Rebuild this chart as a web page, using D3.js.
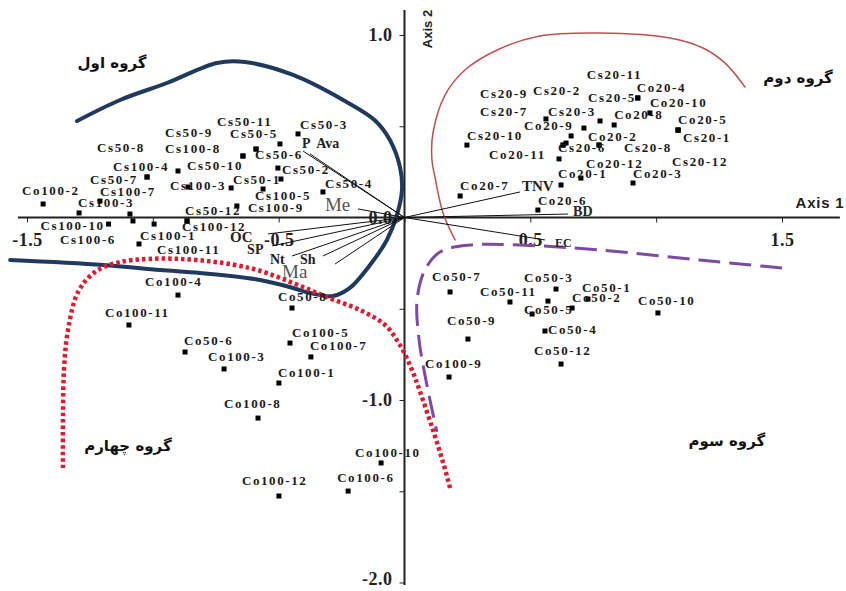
<!DOCTYPE html>
<html>
<head>
<meta charset="utf-8">
<script src="https://cdn.jsdelivr.net/npm/d3@7"></script>
<style>
  body { margin: 0; background: #fff; }
  svg { display: block; }
</style>
</head>
<body>
<div id="chart"></div>
<script>
'use strict';

// Sample scores on the two ordination axes.
// Empty name = marker without a readable label.
const sampleNames = [
  // group 1
  'Co100-2', 'Cs100-3', 'Cs100-7', 'Cs50-7', 'Cs50-8', 'Cs100-4', 'Cs50-10',
  'Cs100-3', 'Cs100-8', 'Cs50-9', 'Cs50-6', 'Cs50-11', 'Cs50-5', 'Cs50-3',
  'Cs50-2', 'Cs50-1', 'Cs50-4', 'Cs100-5', 'Cs100-9', 'Cs50-12', 'Cs100-12',
  'Cs100-1', 'Cs100-10', 'Cs100-6', 'Cs100-11', '',
  // group 2
  'Cs20-10', 'Cs20-3', 'Cs20-2', 'Cs20-5', 'Co20-8', 'Cs20-9', 'Cs20-7',
  'Co20-9', 'Co20-11', 'Co20-2', 'Cs20-8', 'Cs20-6', 'Co20-12', 'Co20-1',
  'Co20-3', 'Co20-7', 'Co20-6', 'Co20-4', 'Cs20-11', 'Co20-10', 'Co20-5',
  'Cs20-1', 'Cs20-12',
  // group 3
  'Co50-7', 'Co50-3', 'Co50-11', '', 'Co50-1', 'Co50-2', 'Co50-10', 'Co50-5',
  'Co50-9', 'Co50-4', 'Co50-12', 'Co100-9',
  // group 4
  'Co100-4', 'Co100-11', 'Co50-8', 'Co100-5', 'Co100-7', 'Co50-6', 'Co100-3',
  'Co100-1', 'Co100-8', 'Co100-10', 'Co100-12', 'Co100-6'
];

const axis1Scores = [
  -1.436, -1.293, -1.210, -1.023, -1.023, -0.900, -0.860,
  -0.689, -0.642, -0.642, -0.590, -0.590, -0.495, -0.423,
  -0.503, -0.491, -0.324, -0.562, -0.666, -0.864, -0.864,
  -0.995, -1.176, -1.079, -1.055, -1.091,
  0.248, 0.562, 0.713, 0.777, 0.833, 0.662, 0.642,
  0.630, 0.630, 0.773, 0.773, 0.614, 0.701, 0.622,
  0.908, 0.221, 0.530, 0.927, 0.927, 0.975, 1.087,
  1.087, 1.087,
  0.181, 0.602, 0.419, 0.570, 0.729, 0.666, 1.007, 0.507,
  0.252, 0.558, 0.622, 0.177,
  -0.900, -1.095, -0.447, -0.455, -0.372, -0.872, -0.717,
  -0.499, -0.582, -0.093, -0.499, -0.224
];

const axis2Scores = [
  0.074, 0.025, 0.090, 0.222, 0.222, 0.255, 0.167,
  0.162, 0.337, 0.337, 0.375, 0.375, 0.403, 0.458,
  0.271, 0.211, 0.140, 0.156, 0.063, -0.019, -0.019,
  -0.036, -0.036, -0.019, -0.145, 0.019,
  0.397, 0.540, 0.490, 0.529, 0.507, 0.447, 0.408,
  0.397, 0.397, 0.397, 0.397, 0.321, 0.216, 0.178,
  0.189, 0.118, 0.041, 0.655, 0.655, 0.573, 0.479,
  0.479, 0.479,
  -0.408, -0.392, -0.463, -0.458, -0.447, -0.496, -0.523, -0.529,
  -0.666, -0.622, -0.803, -0.874,
  -0.425, -0.589, -0.496, -0.688, -0.764, -0.737, -0.830,
  -0.907, -1.099, -1.345, -1.526, -1.499
];

// Environmental variable arrows.
const vectorNames = ['P', 'Ava', 'Me', 'TNV', 'BD', 'EC', 'OC', 'SP', 'Nt', 'Sh', 'Ma'];
const vectorAxis1 = [-0.403, -0.375, -0.185, 0.459, 0.650, 0.558, -0.542, -0.526, -0.447, -0.324, -0.276];
const vectorAxis2 = [0.364, 0.348, 0.047, 0.140, 0.019, -0.123, -0.090, -0.156, -0.211, -0.211, -0.255];

// Axis ticks.
const xTicks = [-1.5, -1, -0.5, 0, 0.5, 1, 1.5];
const xTickLabels = [-1.5, -0.5, 0.5, 1.5];
const yTicks = [-2, -1.5, -1, -0.5, 0, 0.5, 1];
const yTickLabels = [-2, -1, 0, 1];

// Group names and their hand-drawn boundaries (axis units).
const groupNames = ['گروه اول', 'گروه دوم', 'گروه سوم', 'گروه چهارم'];
const groupBoundaries = [
  [[-1.301, 0.529], [-1.130, 0.644], [-0.944, 0.737], [-0.745, 0.847], [-0.634, 0.852],
   [-0.443, 0.781], [-0.244, 0.644], [-0.117, 0.532], [-0.058, 0.425], [-0.018, 0.277],
   [-0.010, 0.151], [-0.030, 0.014], [-0.070, -0.123], [-0.137, -0.260], [-0.217, -0.386],
   [-0.284, -0.430], [-0.375, -0.414], [-0.443, -0.386], [-0.574, -0.342], [-0.813, -0.304],
   [-0.971, -0.288], [-1.198, -0.260], [-1.567, -0.233]],
  [[1.353, 0.715], [1.273, 0.847], [1.186, 0.929], [1.055, 0.984], [0.777, 1.011],
   [0.538, 0.995], [0.368, 0.918], [0.240, 0.808], [0.161, 0.671], [0.113, 0.463],
   [0.109, 0.315], [0.121, 0.222], [0.153, 0.025], [0.201, -0.123]],
  [[1.500, -0.277], [1.174, -0.233], [0.777, -0.178], [0.459, -0.151], [0.260, -0.151],
   [0.141, -0.189], [0.081, -0.288], [0.050, -0.452], [0.058, -0.671], [0.089, -0.918],
   [0.129, -1.175]],
  [[-1.357, -1.373], [-1.357, -1.110], [-1.353, -0.836], [-1.337, -0.616], [-1.297, -0.408],
   [-1.230, -0.299], [-1.130, -0.244], [-0.892, -0.227], [-0.614, -0.277], [-0.443, -0.359],
   [-0.308, -0.436], [-0.177, -0.507], [-0.077, -0.589], [-0.018, -0.699], [0.030, -0.836],
   [0.062, -0.956], [0.113, -1.164], [0.153, -1.340], [0.181, -1.482]]
];

/* ---- layout (pixels) ---- */

const width = 846;
const height = 591;

// label start offset (dx) and baseline offset (dy) from each marker
const labelOffsets = [
  [-21, -9], [-1, -6], [0, -5], [-57, 7], [-50, -25], [-65, 0], [-1, -17],
  [-61, 2], [-78, -3], [-78, -19], [-1, 10], [-39, -23], [-50, -6], [2, -5],
  [4, 6], [-48, 5], [2, -4], [-8, 11], [11, 6], [-2, -6], [-5, 10],
  [-14, 16], [-68, 6], [-73, 23], [18, 10], [0, 0],
  [0, -5], [2, -3], [-51, -33], [-12, -19], [0, -6], [-91, -38], [-86, -27],
  [-39, -15], [-74, 14], [-11, -4], [25, 7], [-1, -7], [5, -10], [-3, -7],
  [0, -5], [0, -6], [0, -5], [-1, -6], [-51, -19], [0, -6], [0, -6],
  [5, 12], [-6, 36],
  [-18, -11], [-32, -7], [-30, -6], [0, 0], [-6, -7], [0, -6], [-20, -8], [-8, 0],
  [-21, -14], [3, 3], [-27, -9], [-24, -9],
  [-33, -9], [-24, -8], [-14, -7], [2, -6], [-1, -7], [-1, -7], [-16, -8],
  [-1, -6], [-34, -10], [-26, -6], [-37, -11], [-11, -9]
];

const vectorLabelOffsets = [[-1, -3], [6, -6], [-33, 2], [2, -1], [5, 2], [10, 7],
  [-38, 8], [-25, 8], [-22, 8], [-23, 8], [-53, 14]];
const vectorLabelSizes = [14, 14, 19, 15, 14, 12, 15, 14, 14, 14, 19];

const groupLabelAnchors = [[-1.162, 0.852], [1.564, 0.770], [1.281, -1.219], [-1.099, -1.247]];
const groupStyles = [
  {stroke: '#1f3a5c', width: 4, dash: null},
  {stroke: '#c0504d', width: 1.5, dash: null},
  {stroke: '#7d4aa5', width: 3, dash: '22,9'},
  {stroke: '#e2192c', width: 4.5, dash: '3.5,3'}
];

const x = d3.scaleLinear().domain([-1.5, 1.5]).range([27, 782]);
const y = d3.scaleLinear().domain([1, -2]).range([35, 582.5]);

const svg = d3.select('#chart')
  .append('svg')
  .attr('width', width)
  .attr('height', height);

// axes crossing at the origin
const serif = 'Liberation Serif, Times New Roman, serif';

svg.append('line')
  .attr('x1', x(-1.536)).attr('x2', x(1.73))
  .attr('y1', y(0)).attr('y2', y(0))
  .attr('stroke', '#222').attr('stroke-width', 2);

svg.append('line')
  .attr('x1', x(0)).attr('x2', x(0))
  .attr('y1', y(1.137)).attr('y2', y(-2.014))
  .attr('stroke', '#222').attr('stroke-width', 2);

svg.append('g')
  .attr('transform', `translate(0,${y(0)})`)
  .attr('color', '#222')
  .call(d3.axisBottom(x)
    .tickValues(xTicks)
    .tickSize(5)
    .tickPadding(11)
    .tickFormat(d => xTickLabels.includes(d) ? d.toFixed(1) : ''))
  .call(g => g.select('.domain').remove())
  .call(g => g.selectAll('text')
    .attr('font-family', serif)
    .attr('font-weight', 'bold')
    .attr('font-size', 18)
    .attr('letter-spacing', 0.5)
    .attr('fill', '#222'));

svg.append('g')
  .attr('transform', `translate(${x(0)},0)`)
  .attr('color', '#222')
  .call(d3.axisLeft(y)
    .tickValues(yTicks)
    .tickSize(5)
    .tickPadding(7)
    .tickFormat(d => yTickLabels.includes(d) ? d.toFixed(1) : ''))
  .call(g => g.select('.domain').remove())
  .call(g => g.selectAll('text')
    .attr('font-family', serif)
    .attr('font-weight', 'bold')
    .attr('font-size', 18)
    .attr('letter-spacing', 0.5)
    .attr('fill', '#222')
    // keep the bottom label inside the frame
    .attr('dy', d => d === -2 ? '0.1em' : '0.32em'));

svg.append('text')
  .attr('x', 820)
  .attr('y', 208)
  .attr('text-anchor', 'middle')
  .attr('font-family', 'Liberation Sans, Arial, sans-serif')
  .attr('font-weight', 'bold')
  .attr('font-size', 15)
  .attr('letter-spacing', 0.8)
  .attr('fill', '#222')
  .text('Axis 1');

svg.append('text')
  .attr('transform', 'translate(432,29) rotate(-90)')
  .attr('text-anchor', 'middle')
  .attr('font-family', 'Liberation Sans, Arial, sans-serif')
  .attr('font-weight', 'bold')
  .attr('font-size', 13)
  .attr('fill', '#222')
  .text('Axis 2');

// group boundaries
const boundary = d3.line()
  .x(d => x(d[0]))
  .y(d => y(d[1]))
  .curve(d3.curveCatmullRom.alpha(0.5));

groupBoundaries.forEach((pts, i) => {
  const s = groupStyles[i];
  svg.append('path')
    .attr('d', boundary(pts))
    .attr('fill', 'none')
    .attr('stroke', s.stroke)
    .attr('stroke-width', s.width)
    .attr('stroke-dasharray', s.dash)
    .attr('stroke-linecap', s.dash ? 'butt' : 'round');

  svg.append('text')
    .attr('x', x(groupLabelAnchors[i][0]))
    .attr('y', y(groupLabelAnchors[i][1]) + 6)
    .attr('text-anchor', 'middle')
    .attr('font-family', 'DejaVu Sans, sans-serif')
    .attr('font-weight', 'bold')
    .attr('font-size', 15)
    .attr('fill', '#111')
    .text(groupNames[i]);
});

// environmental vectors
vectorNames.forEach((name, i) => {
  const vx = x(vectorAxis1[i]);
  const vy = y(vectorAxis2[i]);
  svg.append('line')
    .attr('x1', x(0)).attr('y1', y(0))
    .attr('x2', vx).attr('y2', vy)
    .attr('stroke', '#111')
    .attr('stroke-width', 1);

  const big = vectorLabelSizes[i] > 16;
  svg.append('text')
    .attr('x', vx + vectorLabelOffsets[i][0])
    .attr('y', vy + vectorLabelOffsets[i][1])
    .attr('font-family', serif)
    .attr('font-weight', big ? 'normal' : 'bold')
    .attr('font-size', vectorLabelSizes[i])
    .attr('fill', big ? '#555' : '#222')
    .text(name);
});

// sample markers and labels
sampleNames.forEach((name, i) => {
  const px = x(axis1Scores[i]);
  const py = y(axis2Scores[i]);
  svg.append('rect')
    .attr('x', px - 2.5)
    .attr('y', py - 2.5)
    .attr('width', 5)
    .attr('height', 5)
    .attr('fill', '#000');

  if (!name) {
    return;
  }
  svg.append('text')
    .attr('x', px + labelOffsets[i][0])
    .attr('y', py + labelOffsets[i][1])
    .attr('font-family', serif)
    .attr('font-weight', 'bold')
    .attr('font-size', 13)
    .attr('letter-spacing', 1.6)
    .attr('fill', '#1a1a1a')
    .text(name);
});
</script>
</body>
</html>
